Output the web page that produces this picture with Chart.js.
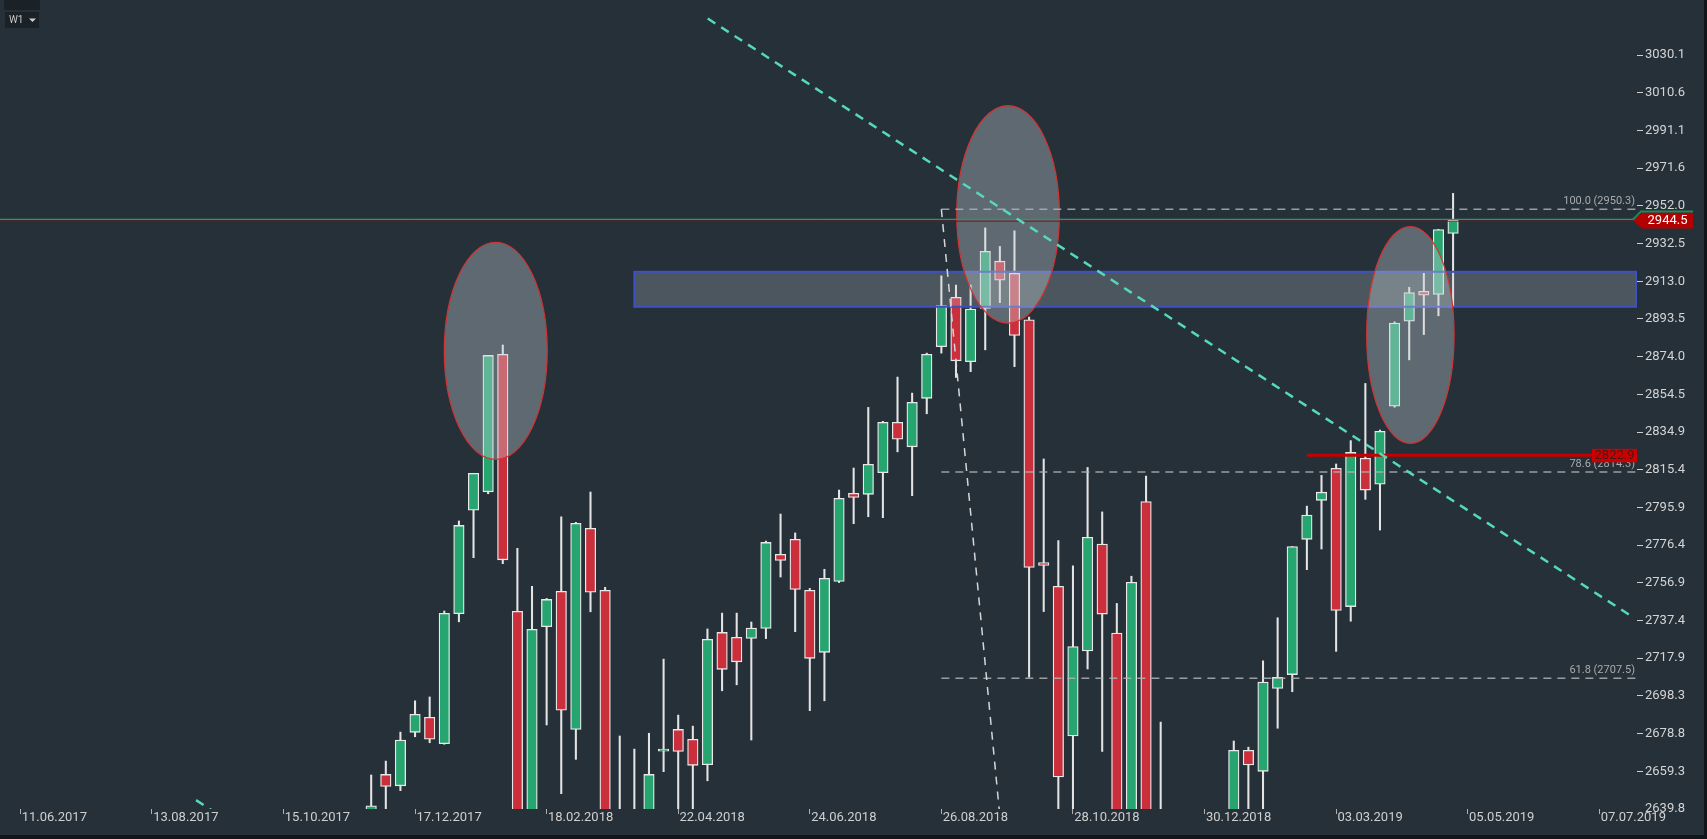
<!DOCTYPE html>
<html>
<head>
<meta charset="utf-8">
<title>W1</title>
<script src="https://cdn.jsdelivr.net/npm/chart.js@4.4.1/dist/chart.umd.min.js"></script>
<style>
  html, body { margin: 0; padding: 0; background: #263039; overflow: hidden; }
  #wrap { position: relative; width: 1707px; height: 839px; }
</style>
</head>
<body>
<div id="wrap"><canvas id="chart"></canvas></div>
<script>
"use strict";

// Weekly candles, week starting on the given Sunday.
const BASE_DATE = "11.06.2017";
const dates = [
  "26.11.2017", "03.12.2017", "10.12.2017", "17.12.2017", "24.12.2017", "31.12.2017",
  "07.01.2018", "14.01.2018", "21.01.2018", "28.01.2018", "04.02.2018", "11.02.2018",
  "18.02.2018", "25.02.2018", "04.03.2018", "11.03.2018", "18.03.2018", "25.03.2018",
  "01.04.2018", "08.04.2018", "15.04.2018", "22.04.2018", "29.04.2018", "06.05.2018",
  "13.05.2018", "20.05.2018", "27.05.2018", "03.06.2018", "10.06.2018", "17.06.2018",
  "24.06.2018", "01.07.2018", "08.07.2018", "15.07.2018", "22.07.2018", "29.07.2018",
  "05.08.2018", "12.08.2018", "19.08.2018", "26.08.2018", "02.09.2018", "09.09.2018",
  "16.09.2018", "23.09.2018", "30.09.2018", "07.10.2018", "14.10.2018", "21.10.2018",
  "28.10.2018", "04.11.2018", "11.11.2018", "18.11.2018", "25.11.2018", "02.12.2018",
  "09.12.2018", "16.12.2018", "23.12.2018", "30.12.2018", "06.01.2019", "13.01.2019",
  "20.01.2019", "27.01.2019", "03.02.2019", "10.02.2019", "17.02.2019", "24.02.2019",
  "03.03.2019", "10.03.2019", "17.03.2019", "24.03.2019", "31.03.2019", "07.04.2019",
  "14.04.2019", "21.04.2019", "28.04.2019",
];
const opens = [
  2602.0, 2657.7, 2651.8, 2679.5, 2687.3, 2673.6,
  2740.9, 2794.5, 2804.0, 2875.2, 2742.1, 2614.0,
  2734.2, 2752.5, 2681.0, 2785.1, 2753.0, 2615.0,
  2633.0, 2617.0, 2669.8, 2681.0, 2675.9, 2662.7,
  2731.2, 2728.7, 2728.1, 2733.3, 2771.6, 2779.4,
  2753.0, 2720.9, 2757.6, 2803.2, 2802.7, 2813.9,
  2840.0, 2827.3, 2852.4, 2879.1, 2904.7, 2871.4,
  2899.0, 2923.4, 2917.1, 2893.0, 2767.4, 2755.1,
  2677.6, 2721.6, 2777.0, 2730.9, 2632.0, 2799.0,
  2630.0, 2590.0, 2400.0, 2498.0, 2535.0, 2590.0,
  2670.2, 2659.3, 2702.2, 2709.4, 2779.4, 2799.6,
  2816.2, 2744.6, 2821.4, 2807.9, 2848.3, 2892.3,
  2907.8, 2906.2, 2937.8,
];
const highs = [
  2657.4, 2664.6, 2679.6, 2695.8, 2697.8, 2742.3,
  2788.9, 2813.6, 2874.6, 2880.0, 2774.7, 2755.1,
  2748.8, 2791.0, 2788.2, 2803.9, 2754.5, 2677.6,
  2670.8, 2679.0, 2717.4, 2688.4, 2682.7, 2733.0,
  2741.2, 2741.2, 2736.6, 2778.5, 2792.5, 2782.7,
  2754.0, 2763.9, 2804.9, 2816.3, 2847.7, 2840.5,
  2863.4, 2855.1, 2875.8, 2915.8, 2911.0, 2911.0,
  2940.6, 2931.0, 2939.1, 2894.5, 2821.0, 2778.8,
  2765.7, 2816.6, 2793.6, 2746.2, 2760.3, 2812.1,
  2684.8, 2601.0, 2520.0, 2538.0, 2598.0, 2675.0,
  2671.8, 2716.5, 2738.8, 2775.7, 2796.6, 2812.5,
  2818.4, 2830.5, 2860.1, 2836.0, 2892.0, 2909.9,
  2917.1, 2939.9, 2958.5,
];
const lows = [
  2597.0, 2624.0, 2649.3, 2677.2, 2674.1, 2673.3,
  2736.7, 2769.9, 2803.0, 2766.8, 2532.0, 2575.0,
  2683.3, 2647.7, 2665.5, 2741.9, 2585.0, 2593.0,
  2553.0, 2610.0, 2659.1, 2612.0, 2594.0, 2654.4,
  2701.0, 2704.1, 2675.5, 2728.0, 2759.9, 2731.6,
  2690.7, 2695.8, 2757.0, 2787.5, 2791.1, 2790.6,
  2824.7, 2802.0, 2844.4, 2875.8, 2863.2, 2866.2,
  2877.5, 2901.9, 2868.8, 2708.1, 2742.0, 2628.0,
  2603.0, 2712.3, 2669.6, 2631.0, 2630.0, 2621.0,
  2583.0, 2408.0, 2346.0, 2443.0, 2524.0, 2580.0,
  2617.0, 2631.0, 2681.6, 2700.5, 2763.7, 2774.4,
  2721.4, 2737.0, 2800.1, 2784.2, 2847.8, 2872.3,
  2885.4, 2895.1, 2899.9,
];
const closes = [
  2641.5, 2651.5, 2675.5, 2688.8, 2675.9, 2741.1,
  2786.6, 2813.6, 2874.6, 2768.8, 2619.0, 2732.8,
  2748.3, 2690.9, 2787.7, 2752.0, 2588.0, 2630.0,
  2604.0, 2657.7, 2670.8, 2669.6, 2662.4, 2727.6,
  2712.1, 2716.0, 2733.5, 2777.8, 2768.5, 2753.5,
  2717.8, 2759.2, 2800.6, 2801.1, 2818.2, 2840.0,
  2831.2, 2850.3, 2875.2, 2900.4, 2871.8, 2898.6,
  2928.5, 2913.6, 2884.9, 2764.8, 2765.9, 2656.4,
  2723.9, 2780.5, 2740.7, 2632.0, 2757.2, 2633.0,
  2600.0, 2416.0, 2485.0, 2531.0, 2596.0, 2670.2,
  2662.6, 2705.5, 2707.9, 2775.7, 2792.0, 2803.8,
  2742.6, 2824.4, 2804.9, 2835.3, 2891.4, 2907.1,
  2905.8, 2939.8, 2944.5,
];

const xTickLabels = [
  "11.06.2017", "13.08.2017", "15.10.2017", "17.12.2017", "18.02.2018", "22.04.2018",
  "24.06.2018", "26.08.2018", "28.10.2018", "30.12.2018", "03.03.2019", "05.05.2019", "07.07.2019",
];
const yTickValues = [
  3030.1, 3010.6, 2991.1, 2971.6, 2952.0, 2932.5, 2913.0, 2893.5, 2874.0, 2854.5, 2834.9,
  2815.4, 2795.9, 2776.4, 2756.9, 2737.4, 2717.9, 2698.3, 2678.8, 2659.3, 2639.8,
];

// Drawings on the chart (x in weeks from BASE_DATE, y in price).
const lastPrice = 2944.5;
const askLine = 2945.0;
const bidLine = 2944.1;
const levelPrice = 2822.9;
const levelFrom = "17.02.2019";
const fibFrom = "26.08.2018";
const fibLevels = [100.0, 78.6, 61.8];
const fibPrices = [2950.3, 2814.3, 2707.5];
const fibDiagonal = [[63, 2950.3], [71.09, 2314.8]];
const trendMain = [[47.02, 3049.0], [110.08, 2740.2]];
const trendLower = [[12.02, 2644.4], [20.0, 2605.3]];
const zoneFrom = 42.0;
const zoneTop = 2917.9;
const zoneBottom = 2899.8;
const ellipseX = [32.52, 67.56, 95.08];
const ellipseY = [2877.0, 2947.6, 2885.2];
const ellipseRx = [3.52, 3.51, 2.99];
const ellipseRy = [56.2, 56.3, 56.1];

const X_MIN = -1.389;
const X_MAX = 110.58;
const Y_MIN = 2639.8;
const Y_MAX = 3058.6;

const BG = "#263039";
const UP = "#26a570";
const DOWN = "#cc2f3c";

function weekIndex(s) {
  const [d, m, y] = s.split(".").map(Number);
  const [bd, bm, by] = BASE_DATE.split(".").map(Number);
  return Math.round((Date.UTC(y, m - 1, d) - Date.UTC(by, bm - 1, bd)) / 604800000);
}

const xs = dates.map(weekIndex);
const xTicks = xTickLabels.map(weekIndex);
const candleColors = opens.map((o, i) => (closes[i] >= o ? UP : DOWN));

const seg = (pts) => pts.map(([x, y]) => ({ x, y }));
const lineDs = (data, color, width, dash, order) => ({
  type: "line", data, borderColor: color, borderWidth: width, borderDash: dash || [],
  pointRadius: 0, fill: false, tension: 0, order,
});

const fibStart = weekIndex(fibFrom);
const datasets = [
  {
    label: "wicks", data: xs.map((x, i) => ({ x, y: [lows[i], highs[i]] })),
    backgroundColor: "#e4e4e4", borderWidth: 0, grouped: false,
    categoryPercentage: 1, barPercentage: 1, maxBarThickness: 1.4, order: 10,
  },
  {
    label: "bodies", data: xs.map((x, i) => ({ x, y: [opens[i], closes[i]] })),
    backgroundColor: candleColors, borderColor: "#e8e8e8", borderWidth: 1.3, borderSkipped: false,
    grouped: false, categoryPercentage: 1, barPercentage: 1, maxBarThickness: 10.5, order: 9,
  },
  ...fibPrices.map((p) => lineDs(seg([[fibStart, p], [X_MAX, p]]), "rgba(175,178,180,0.85)", 1.5, [8, 6], 5)),
  lineDs(seg(fibDiagonal), "#d6d6d6", 1.5, [8, 7], 4),
  lineDs(seg([[weekIndex(levelFrom), levelPrice], [X_MAX, levelPrice]]), "#c40000", 3, null, 3),
  lineDs(seg([[X_MIN, bidLine], [X_MAX, bidLine]]), "#7e1414", 1, null, 3),
  lineDs(seg([[X_MIN, askLine], [X_MAX, askLine]]), "#17a06a", 1.2, null, 2),
  lineDs(seg(trendMain), "#55d9bb", 2.5, [9, 7], 1),
  lineDs(seg(trendLower), "#55d9bb", 2.5, [9, 7], 1),
];

const overlay = {
  id: "overlay",
  beforeDraw(chart) {
    const { ctx, width, height } = chart;
    ctx.save();
    ctx.fillStyle = BG;
    ctx.fillRect(0, 0, width, height);
    ctx.restore();
  },
  afterDatasetDraw(chart, args) {
    if (args.index !== 1) return;
    const { ctx, chartArea: a, scales: { x, y } } = chart;
    ctx.save();
    ctx.beginPath();
    ctx.rect(a.left, a.top, a.width, a.height);
    ctx.clip();
    // support / resistance zone
    const zx = x.getPixelForValue(zoneFrom);
    const zt = y.getPixelForValue(zoneTop);
    const zb = y.getPixelForValue(zoneBottom);
    ctx.fillStyle = "rgba(200,210,215,0.24)";
    ctx.fillRect(zx, zt, a.right - zx, zb - zt);
    ctx.strokeStyle = "#3f50c2";
    ctx.lineWidth = 2;
    ctx.strokeRect(zx, zt, a.right - zx - 1, zb - zt);
    // highlighted tops
    ellipseX.forEach((ex, i) => {
      const cx = x.getPixelForValue(ex);
      const cy = y.getPixelForValue(ellipseY[i]);
      const rx = Math.abs(x.getPixelForValue(ex + ellipseRx[i]) - cx);
      const ry = Math.abs(y.getPixelForValue(ellipseY[i] + ellipseRy[i]) - cy);
      ctx.beginPath();
      ctx.ellipse(cx, cy, rx, ry, 0, 0, Math.PI * 2);
      ctx.fillStyle = "rgba(200,210,215,0.355)";
      ctx.fill();
      ctx.strokeStyle = "#d23434";
      ctx.lineWidth = 1.2;
      ctx.stroke();
    });
    ctx.restore();
  },
  afterDraw(chart) {
    const { ctx, chartArea: a, scales: { y }, width, height } = chart;
    ctx.save();
    // fib labels
    ctx.font = "11px Roboto";
    ctx.fillStyle = "#a9abad";
    ctx.textAlign = "right";
    ctx.textBaseline = "bottom";
    fibLevels.forEach((lv, i) => {
      ctx.fillText(`${lv.toFixed(1)} (${fibPrices[i].toFixed(1)})`, a.right - 2, y.getPixelForValue(fibPrices[i]) - 2);
    });
    // level tag
    const ly = y.getPixelForValue(levelPrice);
    ctx.fillStyle = "#cc0000";
    ctx.fillRect(a.right - 45, ly - 6.5, 45, 13.5);
    ctx.font = "13px Roboto";
    ctx.fillStyle = "#4a1616";
    ctx.textAlign = "center";
    ctx.textBaseline = "middle";
    ctx.fillText(levelPrice.toFixed(1), a.right - 22.5, ly + 0.5);
    // last price tag
    const py = y.getPixelForValue(lastPrice);
    const r = a.right;
    ctx.beginPath();
    ctx.moveTo(r - 4, py);
    ctx.lineTo(r + 5, py - 8);
    ctx.lineTo(r + 56, py - 8);
    ctx.lineTo(r + 56, py + 8);
    ctx.lineTo(r + 5, py + 8);
    ctx.closePath();
    ctx.fillStyle = "#b30000";
    ctx.fill();
    const gy = y.getPixelForValue(askLine);
    ctx.beginPath();
    ctx.moveTo(r - 4, gy);
    ctx.lineTo(r + 4, py - 9);
    ctx.lineTo(r + 56, py - 9);
    ctx.strokeStyle = "#12905e";
    ctx.lineWidth = 2;
    ctx.stroke();
    ctx.fillStyle = "#ffffff";
    ctx.fillText(lastPrice.toFixed(1), r + 30.5, py + 0.5);
    // period selector
    ctx.fillStyle = "#1a2127";
    ctx.fillRect(4, 0, 36, 10);
    ctx.fillRect(5, 12, 34, 16);
    ctx.font = "10px Roboto";
    ctx.fillStyle = "#c8c8c8";
    ctx.textAlign = "left";
    ctx.fillText("W1", 9, 20.5);
    ctx.beginPath();
    ctx.moveTo(29, 18.5);
    ctx.lineTo(36, 18.5);
    ctx.lineTo(32.5, 22);
    ctx.closePath();
    ctx.fillStyle = "#d0d0d0";
    ctx.fill();
    // frame strips
    ctx.fillStyle = "#12161a";
    ctx.fillRect(0, height - 4, width, 4);
    ctx.fillRect(width - 3, 0, 3, height);
    ctx.restore();
  },
};

Chart.defaults.font.family = "Roboto, 'Noto Sans', sans-serif";

new Chart(document.getElementById("chart"), {
  type: "bar",
  data: { datasets },
  options: {
    responsive: true,
    maintainAspectRatio: false,
    devicePixelRatio: 1,
    animation: false,
    events: [],
    layout: { padding: 0 },
    plugins: { legend: { display: false }, tooltip: { enabled: false } },
    scales: {
      x: {
        type: "linear", min: X_MIN, max: X_MAX, offset: false, bounds: "data",
        border: { display: false },
        grid: { offset: false, drawOnChartArea: false, drawTicks: true, tickLength: 5, tickColor: "#b0b0b0", tickWidth: 1 },
        afterBuildTicks: (s) => { s.ticks = xTicks.map((v) => ({ value: v })); },
        afterFit: (s) => { s.height = 30; s.paddingLeft = 0; s.paddingRight = 0; },
        ticks: {
          autoSkip: false, maxRotation: 0, minRotation: 0, padding: -4, labelOffset: 34,
          color: "#cfcfcf", font: { size: 13 },
          callback: (v, i) => xTickLabels[i],
        },
      },
      y: {
        position: "right", min: Y_MIN, max: Y_MAX, bounds: "data",
        border: { display: false },
        grid: {
          drawOnChartArea: false, drawTicks: true, tickLength: 6, tickWidth: 1,
          tickColor: (c) => (c.tick && c.tick.value <= Y_MIN ? "rgba(0,0,0,0)" : "#cfcfcf"),
        },
        afterBuildTicks: (s) => { s.ticks = yTickValues.map((v) => ({ value: v })); },
        afterFit: (s) => { s.width = 70; s.paddingTop = 0; s.paddingBottom = 0; },
        ticks: { padding: 2, color: "#d4d4d4", font: { size: 13 }, callback: (v) => Number(v).toFixed(1) },
      },
    },
  },
  plugins: [overlay],
});
</script>
</body>
</html>
